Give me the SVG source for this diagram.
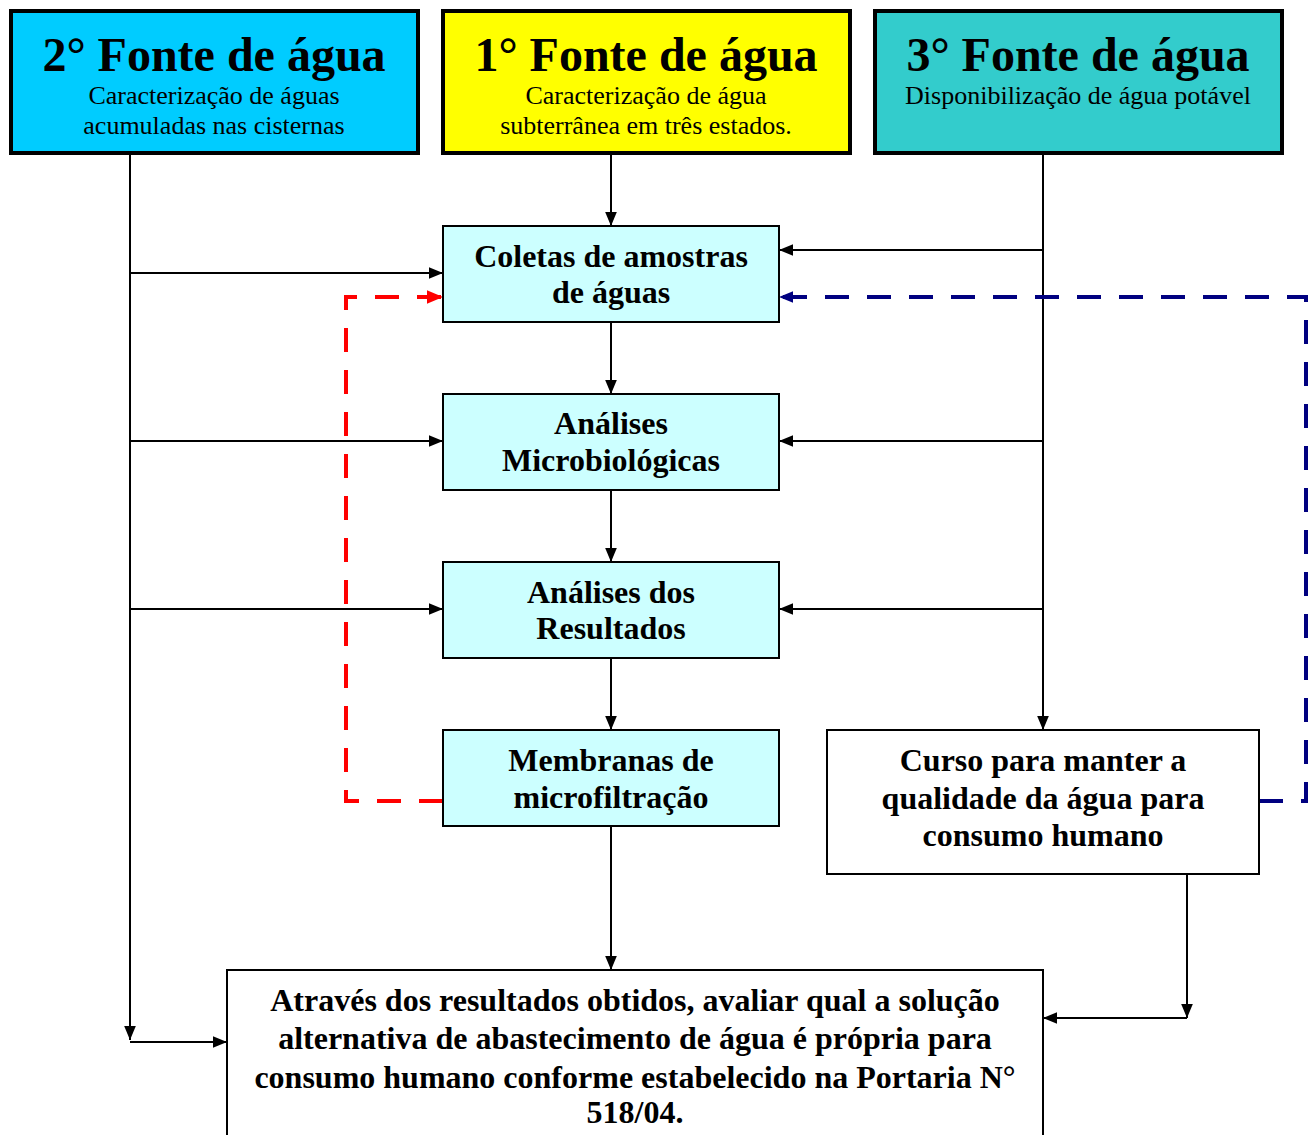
<svg xmlns="http://www.w3.org/2000/svg" width="1313" height="1135" viewBox="0 0 1313 1135">
<style>
text{font-family:"Liberation Serif","Times New Roman",serif;fill:#000;text-anchor:middle}
.t{font-size:48px;font-weight:bold}
.s{font-size:26px}
.b{font-size:32px;font-weight:bold}
.src{stroke:#000;stroke-width:4}
.mid{fill:#CCFFFF;stroke:#000;stroke-width:2}
.wb{fill:#fff;stroke:#000;stroke-width:2}
.c{fill:none;stroke:#000;stroke-width:2}
.red{fill:none;stroke:#FF0000;stroke-width:4;stroke-dasharray:24 18}
.blue{fill:none;stroke:#000080;stroke-width:4;stroke-dasharray:24 18}
</style>
<defs>
<marker id="a" viewBox="0 0 12 10" refX="12" refY="5" markerWidth="14" markerHeight="12" markerUnits="userSpaceOnUse" orient="auto"><path d="M0,0L12,5L0,10z" fill="#000"/></marker>
<marker id="ar" viewBox="0 0 12 10" refX="12" refY="5" markerWidth="16" markerHeight="14" markerUnits="userSpaceOnUse" orient="auto"><path d="M0,0L12,5L0,10z" fill="#FF0000"/></marker>
<marker id="ab" viewBox="0 0 12 10" refX="12" refY="5" markerWidth="14" markerHeight="12" markerUnits="userSpaceOnUse" orient="auto"><path d="M0,0L12,5L0,10z" fill="#000080"/></marker>
</defs>
<g id="connectors">
<path class="c" d="M130,154V1040" marker-end="url(#a)"/>
<path class="c" d="M130,1042H227" marker-end="url(#a)"/>
<path class="c" d="M130,273H443" marker-end="url(#a)"/>
<path class="c" d="M130,441H443" marker-end="url(#a)"/>
<path class="c" d="M130,609H443" marker-end="url(#a)"/>
<path class="c" d="M611,154V226" marker-end="url(#a)"/>
<path class="c" d="M611,322V394" marker-end="url(#a)"/>
<path class="c" d="M611,490V562" marker-end="url(#a)"/>
<path class="c" d="M611,658V730" marker-end="url(#a)"/>
<path class="c" d="M611,826V970" marker-end="url(#a)"/>
<path class="c" d="M1043,154V730" marker-end="url(#a)"/>
<path class="c" d="M1043,250H779" marker-end="url(#a)"/>
<path class="c" d="M1043,441H779" marker-end="url(#a)"/>
<path class="c" d="M1043,609H779" marker-end="url(#a)"/>
<path class="c" d="M1187,874V1018" marker-end="url(#a)"/>
<path class="c" d="M1187,1018H1043" marker-end="url(#a)"/>
<path class="red" d="M443,801H346V297H443" marker-end="url(#ar)"/>
<path class="blue" d="M1259,801H1306V297H779" marker-end="url(#ab)"/>
</g>
<g id="fonte2">
<rect class="src" x="11" y="11" width="407" height="142" fill="#00CCFF"/>
<text class="t" x="214" y="71">2° Fonte de água</text>
<text class="s" x="214" y="104">Caracterização de águas</text>
<text class="s" x="214" y="134">acumuladas nas cisternas</text>
</g>
<g id="fonte1">
<rect class="src" x="443" y="11" width="407" height="142" fill="#FFFF00"/>
<text class="t" x="646" y="71">1° Fonte de água</text>
<text class="s" x="646" y="104">Caracterização de água</text>
<text class="s" x="646" y="134">subterrânea em três estados.</text>
</g>
<g id="fonte3">
<rect class="src" x="875" y="11" width="407" height="142" fill="#33CCCC"/>
<text class="t" x="1078" y="71">3° Fonte de água</text>
<text class="s" x="1078" y="104">Disponibilização de água potável</text>
</g>
<g id="coletas">
<rect class="mid" x="443" y="226" width="336" height="96"/>
<text class="b" x="611" y="267">Coletas de amostras</text>
<text class="b" x="611" y="303">de águas</text>
</g>
<g id="microbio">
<rect class="mid" x="443" y="394" width="336" height="96"/>
<text class="b" x="611" y="434">Análises</text>
<text class="b" x="611" y="471">Microbiológicas</text>
</g>
<g id="resultados">
<rect class="mid" x="443" y="562" width="336" height="96"/>
<text class="b" x="611" y="603">Análises dos</text>
<text class="b" x="611" y="639">Resultados</text>
</g>
<g id="membranas">
<rect class="mid" x="443" y="730" width="336" height="96"/>
<text class="b" x="611" y="771">Membranas de</text>
<text class="b" x="611" y="808">microfiltração</text>
</g>
<g id="curso">
<rect class="wb" x="827" y="730" width="432" height="144"/>
<text class="b" x="1043" y="771">Curso para manter a</text>
<text class="b" x="1043" y="809">qualidade da água para</text>
<text class="b" x="1043" y="846">consumo humano</text>
</g>
<g id="avaliar">
<rect class="wb" x="227" y="970" width="816" height="175"/>
<text class="b" x="635" y="1011">Através dos resultados obtidos, avaliar qual a solução</text>
<text class="b" x="635" y="1049">alternativa de abastecimento de água é própria para</text>
<text class="b" x="635" y="1088">consumo humano conforme estabelecido na Portaria N°</text>
<text class="b" x="635" y="1123">518/04.</text>
</g>
</svg>
